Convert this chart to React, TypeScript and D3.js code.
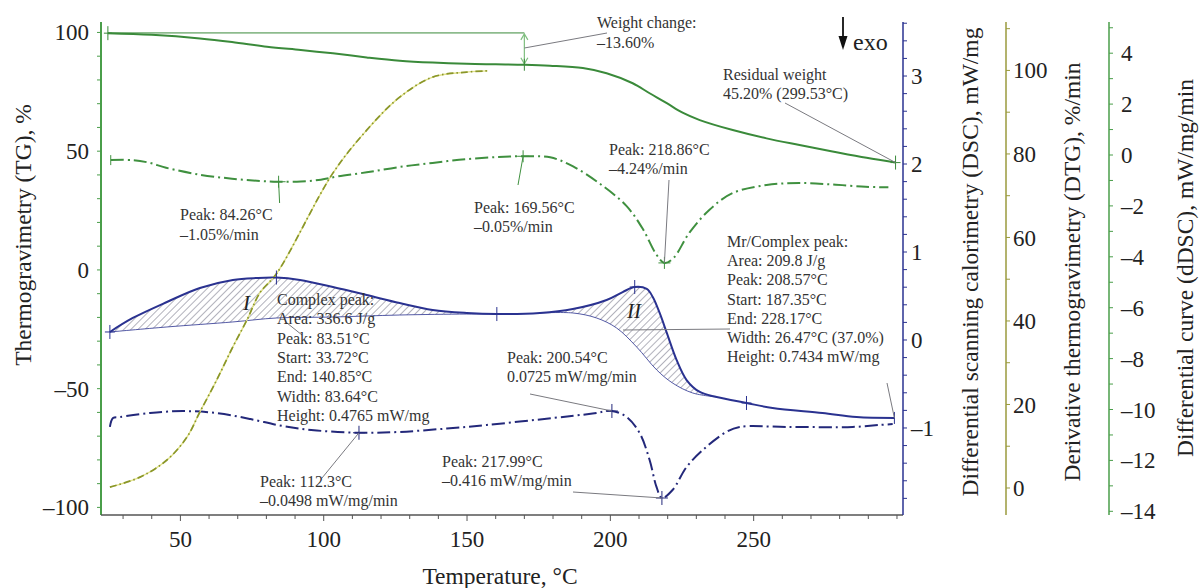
import React from "react";
import * as d3 from "d3";

type P = [number, number];

// ---- data (temperature °C, value) ----
const tgSeries: P[] = [
  [24.7, 99.7], [40, 99.0], [56.8, 97.5], [68, 96.0], [80.2, 94.0], [92, 92.6],
  [103.2, 91.2], [115, 89.5], [126.5, 88.1], [138, 87.3], [149.9, 86.8], [160, 86.6],
  [170, 86.4], [178.9, 86.0], [190.4, 85.0], [198.7, 82.8], [207.8, 78.6], [213.7, 74.4],
  [219.7, 70.2], [225.2, 66.2], [231.2, 63.1], [242.7, 58.9], [254.5, 55.4], [266, 52.6],
  [277.5, 49.9], [289.4, 47.2], [299.5, 45.2],
];

const dtgSeries: P[] = [
  [25.7, -0.2], [33.5, -0.2], [39, -0.3], [45, -0.5], [57, -0.78], [68, -0.93],
  [78, -1.02], [84.26, -1.05], [92, -1.04], [99, -0.97], [105, -0.84], [115, -0.68],
  [126.5, -0.47], [138, -0.31], [150, -0.16], [161, -0.08], [169.56, -0.05], [179, -0.09],
  [187, -0.45], [196, -1.1], [205.6, -2.0], [211.3, -2.9], [216, -3.9], [218.86, -4.24],
  [222, -4.05], [227.6, -3.05], [234.6, -2.15], [242.6, -1.5], [254.5, -1.18], [266, -1.1],
  [277.5, -1.16], [289, -1.25], [297, -1.27],
];

const oliveSeries: P[] = [
  [25.4, 0.2], [35.9, 2.6], [45.3, 6.7], [52.3, 12.2], [56.8, 18.2], [62.7, 25.9],
  [68.3, 33.8], [73.2, 40.2], [77.7, 46.7], [83.7, 51.5], [103.2, 75.4], [115, 85.7],
  [126.5, 93.6], [138, 98.4], [149.9, 99.6], [157.2, 99.9],
];

const dscSeries: P[] = [
  [25.4, 0.091], [33.4, 0.25], [45.3, 0.432], [56.8, 0.591], [68.3, 0.682], [76.7, 0.705],
  [83.5, 0.71], [91.7, 0.682], [103.2, 0.602], [115, 0.511], [126.5, 0.42], [138, 0.341],
  [149.9, 0.307], [160.4, 0.295], [175.4, 0.307], [186.9, 0.352], [198.7, 0.455],
  [204.3, 0.545], [208.5, 0.602], [212.7, 0.58], [214.8, 0.489], [217.2, 0.307],
  [219.7, 0.08], [223.1, -0.227], [226.6, -0.455], [231.2, -0.591], [237.1, -0.648],
  [247.5, -0.716], [256.6, -0.773], [274, -0.83], [285.9, -0.875], [299.1, -0.886],
];

const baselineI: P[] = [
  [25.4, 0.091], [45.3, 0.148], [68.3, 0.205], [83.5, 0.25], [103.2, 0.261],
  [126.5, 0.284], [149.9, 0.295], [160.4, 0.295],
];

const baselineII: P[] = [
  [175.4, 0.307], [186.9, 0.307], [195.2, 0.25], [202.2, 0.136], [209.2, -0.08],
  [216.2, -0.341], [221.7, -0.489], [228.7, -0.602], [237.1, -0.648],
];

const ddscSeries: P[] = [
  [25.4, -0.017], [26.5, 0.033], [28.9, 0.039], [39.4, 0.061], [50.9, 0.072], [62.7, 0.061],
  [74.2, 0.028], [85.7, -0.012], [97.6, -0.037], [112.3, -0.0498], [126.5, -0.045],
  [142.9, -0.026], [156.9, -0.006], [179.9, 0.033], [193.8, 0.058], [200.54, 0.0725],
  [205.7, 0.039], [210.2, -0.051], [213.7, -0.203], [216.1, -0.354], [217.99, -0.416],
  [221.7, -0.371], [226.6, -0.242], [232.2, -0.147], [240.5, -0.045], [245.1, -0.017],
  [261.5, -0.017], [284.5, -0.017], [294, -0.006], [298.5, -0.001],
];

// ---- ticks / labels ----
const xTicks = [50, 100, 150, 200, 250];
const tgTicks = [-100, -50, 0, 50, 100];
const dscTicks = [-1, 0, 1, 2, 3];
const oliveTicks = [0, 20, 40, 60, 80, 100];
const greenTicks = [-14, -12, -10, -8, -6, -4, -2, 0, 2, 4];

const complexI = [
  "Complex peak:", "Area: 336.6 J/g", "Peak: 83.51°C", "Start: 33.72°C",
  "End: 140.85°C", "Width: 83.64°C", "Height: 0.4765 mW/mg",
];
const complexII = [
  "Mr/Complex peak:", "Area: 209.8 J/g", "Peak: 208.57°C", "Start: 187.35°C",
  "End: 228.17°C", "Width: 26.47°C (37.0%)", "Height: 0.7434 mW/mg",
];

const fmt = (v: number) => (v < 0 ? "–" + Math.abs(v) : String(v));

const FONT = "'Liberation Serif', 'Times New Roman', serif";
const C_TG = "#3a8a3a";
const C_DTG = "#3f903f";
const C_GAX = "#4a9e4a";
const C_DSC = "#2a3290";
const C_DD = "#23287a";
const C_OL = "#8a962a";
const C_OLAX = "#9a9a3c";
const C_LEAD = "#7a7a80";

export default function App() {
  const x = d3.scaleLinear().domain([22.3, 302.1]).range([101, 903]);
  const yTG = d3.scaleLinear().domain([-103.2, 104.4]).range([515, 22]);
  const yDSC = d3.scaleLinear().domain([-1.989, 3.614]).range([515, 22]);
  const yOl = d3.scaleLinear().domain([-6.47, 111.6]).range([515, 22]);
  const yG = d3.scaleLinear().domain([-14.145, 5.226]).range([515, 22]);
  const yDD = d3.scaleLinear().domain([-0.5115, 2.2566]).range([515, 22]);

  const mk = (ys: d3.ScaleLinear<number, number>) =>
    d3.line<P>().x((d) => x(d[0])).y((d) => ys(d[1])).curve(d3.curveCatmullRom.alpha(0.5));

  const lDSC = mk(yDSC);
  const hatch = (base: P[]) => {
    const a = base[0][0];
    const b = base[base.length - 1][0];
    const seg = dscSeries.filter((d) => d[0] >= a && d[0] <= b);
    const rev = base.slice().reverse();
    return (lDSC(seg) || "") + (lDSC(rev) || "").replace(/^M/, "L") + "Z";
  };

  const cross = (cx: number, cy: number, color: string, h = 6, v = 7, key?: string) => (
    <g key={key} stroke={color} strokeWidth={1}>
      <line x1={cx - h} x2={cx + h} y1={cy} y2={cy} />
      <line x1={cx} x2={cx} y1={cy - v} y2={cy + v} />
    </g>
  );

  const at = (s: P[], t: number) => s.find((d) => d[0] === t) as P;

  const tgMinor = d3.range(-100, 101, 10);
  const xMinor = d3.range(30, 301, 10);
  const dscMinor = d3.range(-1.8, 3.61, 0.2);
  const olMinor = d3.range(0, 111, 10);
  const gMinor = d3.range(-14, 5.1, 1);

  const tickFont = { fontFamily: FONT, fontSize: 23, fill: "#222" } as const;
  const anno = { fontFamily: FONT, fontSize: 16, fill: "#333" } as const;
  const titleFont = { fontFamily: FONT, fontSize: 23.5, fill: "#222" } as const;

  const tgStart = tgSeries[0];
  const tg170 = at(tgSeries, 170);
  const tgEnd = tgSeries[tgSeries.length - 1];

  const dtg1 = at(dtgSeries, 84.26);
  const dtg2 = at(dtgSeries, 169.56);
  const dtg3 = at(dtgSeries, 218.86);
  const dd1 = at(ddscSeries, 112.3);
  const dd2 = at(ddscSeries, 200.54);
  const dd3 = at(ddscSeries, 217.99);
  const dscEnd = dscSeries[dscSeries.length - 1];

  const dash = "13,4,2,4";

  return (
    <svg
      width={1200}
      height={588}
      style={{ position: "absolute", left: 0, top: 0, background: "#fff" }}
    >
      <defs>
        <pattern id="hatch" patternUnits="userSpaceOnUse" width={5} height={5} patternTransform="rotate(45)">
          <line x1={0} y1={0} x2={0} y2={5} stroke="#55556a" strokeWidth={0.9} />
        </pattern>
      </defs>
      <rect x={0} y={0} width={1200} height={588} fill="#fff" />

      {/* hatched peak areas */}
      <path d={hatch(baselineI)} fill="url(#hatch)" stroke="none" />
      <path d={hatch(baselineII)} fill="url(#hatch)" stroke="none" />
      <path d={lDSC(baselineI) || ""} fill="none" stroke={C_DSC} strokeWidth={1} opacity={0.8} />
      <path d={lDSC(baselineII) || ""} fill="none" stroke={C_DSC} strokeWidth={1} opacity={0.8} />

      {/* weight change guide */}
      <line x1={x(tgStart[0])} x2={x(tg170[0])} y1={yTG(99.8)} y2={yTG(99.8)} stroke={C_TG} strokeWidth={1} />
      <g stroke="#7fbf7f" strokeWidth={1.2} fill="none">
        <line x1={x(170)} x2={x(170)} y1={yTG(99.8) + 1} y2={yTG(tg170[1]) - 1} />
        <path d={`M${x(170) - 3.5},${yTG(99.8) + 7} L${x(170)},${yTG(99.8) + 1} L${x(170) + 3.5},${yTG(99.8) + 7}`} />
        <path d={`M${x(170) - 3.5},${yTG(tg170[1]) - 7} L${x(170)},${yTG(tg170[1]) - 1} L${x(170) + 3.5},${yTG(tg170[1]) - 7}`} />
      </g>

      {/* curves */}
      <path d={lDSC(dscSeries) || ""} fill="none" stroke={C_DSC} strokeWidth={2} />
      <path d={mk(yDD)(ddscSeries) || ""} fill="none" stroke={C_DD} strokeWidth={2} strokeDasharray={dash} />
      <path d={mk(yOl)(oliveSeries) || ""} fill="none" stroke="#e2e28a" strokeWidth={1.4} />
      <path d={mk(yOl)(oliveSeries) || ""} fill="none" stroke={C_OL} strokeWidth={1.7} strokeDasharray="7,3,1.5,3" />
      <path d={mk(yG)(dtgSeries) || ""} fill="none" stroke={C_DTG} strokeWidth={2} strokeDasharray={dash} />
      <path d={mk(yTG)(tgSeries) || ""} fill="none" stroke={C_TG} strokeWidth={2} />

      {/* markers */}
      {cross(x(tgStart[0]), yTG(tgStart[1]), C_TG, 4, 7, "t1")}
      {cross(x(tg170[0]), yTG(tg170[1]), C_TG, 0, 6, "t2")}
      {cross(x(tgEnd[0]), yTG(tgEnd[1]), C_TG, 5, 7, "t3")}
      {cross(x(dtgSeries[0][0]), yG(dtgSeries[0][1]), C_DTG, 0, 5, "g0")}
      {cross(x(dtg1[0]), yG(dtg1[1]), C_DTG, 7, 6, "g1")}
      {cross(x(dtg2[0]), yG(dtg2[1]), C_DTG, 6, 6, "g2")}
      {cross(x(dtg3[0]), yG(dtg3[1]), C_DTG, 6, 6, "g3")}
      {[25.4, 83.5, 160.4, 208.5, 247.5].map((t, i) =>
        cross(x(t), yDSC(at(dscSeries, t)[1]), C_DSC, 5, 7, "d" + i)
      )}
      {cross(x(dscEnd[0]), yDSC(dscEnd[1]), C_DSC, 0, 6, "de")}
      {cross(x(dd1[0]), yDD(dd1[1]), C_DD, 6, 7, "dd1")}
      {cross(x(dd2[0]), yDD(dd2[1]), C_DD, 6, 7, "dd2")}
      {cross(x(dd3[0]), yDD(dd3[1]), C_DD, 6, 7, "dd3")}

      {/* leader lines */}
      <g stroke={C_LEAD} strokeWidth={1} fill="none">
        <line x1={x(170)} y1={48} x2={607} y2={33} />
        <line x1={785} y1={103} x2={x(tgEnd[0])} y2={yTG(tgEnd[1])} />
        <line x1={x(dtg1[0])} y1={yG(dtg1[1])} x2={x(dtg1[0]) + 1} y2={203} stroke={C_DTG} />
        <line x1={x(dtg2[0])} y1={yG(dtg2[1])} x2={518} y2={185} stroke={C_DTG} />
        <line x1={x(dtg3[0])} y1={yG(dtg3[1])} x2={669} y2={180} />
        <line x1={287} y1={323} x2={302} y2={335} />
        <line x1={623} y1={330} x2={730} y2={329} />
        <line x1={x(dscEnd[0])} y1={yDSC(dscEnd[1])} x2={887} y2={383} />
        <line x1={x(dd1[0])} y1={yDD(dd1[1])} x2={322} y2={478} />
        <line x1={x(dd2[0])} y1={yDD(dd2[1])} x2={530} y2={394} />
        <line x1={x(dd3[0])} y1={yDD(dd3[1])} x2={573} y2={492} />
      </g>

      {/* left axis */}
      <line x1={101} x2={101} y1={22} y2={515} stroke={C_GAX} strokeWidth={2} />
      {tgMinor.map((v) => (
        <line key={"tm" + v} x1={97} x2={101} y1={yTG(v)} y2={yTG(v)} stroke={C_GAX} strokeWidth={1} />
      ))}
      {tgTicks.map((v) => (
        <text key={"tl" + v} x={89} y={yTG(v)} dy="0.35em" textAnchor="end" {...tickFont}>
          {fmt(v)}
        </text>
      ))}

      {/* bottom axis */}
      <line x1={101} x2={903} y1={515} y2={515} stroke="#555" strokeWidth={1.5} />
      {xMinor.map((v) => (
        <line key={"xm" + v} x1={x(v)} x2={x(v)} y1={515} y2={xTicks.includes(v) ? 521 : 519} stroke="#555" strokeWidth={1} />
      ))}
      {xTicks.map((v) => (
        <text key={"xl" + v} x={x(v)} y={547} textAnchor="middle" {...tickFont}>
          {v}
        </text>
      ))}

      {/* DSC axis */}
      <line x1={903} x2={903} y1={22} y2={515} stroke={C_DSC} strokeWidth={1.5} />
      {dscMinor.map((v, i) => (
        <line key={"dm" + i} x1={903} x2={907} y1={yDSC(v)} y2={yDSC(v)} stroke={C_DSC} strokeWidth={1} />
      ))}
      {dscTicks.map((v) => (
        <text key={"dl" + v} x={911} y={yDSC(v)} dy="0.35em" {...tickFont}>
          {fmt(v)}
        </text>
      ))}

      {/* olive axis */}
      <line x1={1006} x2={1006} y1={22} y2={515} stroke={C_OLAX} strokeWidth={1.5} />
      {olMinor.map((v) => (
        <line key={"om" + v} x1={1006} x2={1010} y1={yOl(v)} y2={yOl(v)} stroke={C_OLAX} strokeWidth={1} />
      ))}
      {oliveTicks.map((v) => (
        <text key={"ol" + v} x={1013} y={yOl(v)} dy="0.35em" {...tickFont}>
          {fmt(v)}
        </text>
      ))}

      {/* green right axis */}
      <line x1={1109} x2={1109} y1={22} y2={515} stroke={C_GAX} strokeWidth={1.5} />
      {gMinor.map((v) => (
        <line key={"gm" + v} x1={1109} x2={1113} y1={yG(v)} y2={yG(v)} stroke={C_GAX} strokeWidth={1} />
      ))}
      {greenTicks.map((v) => (
        <text key={"gl" + v} x={1121} y={yG(v)} dy="0.35em" {...tickFont}>
          {fmt(v)}
        </text>
      ))}

      {/* axis titles */}
      <text transform="translate(31,235) rotate(-90)" textAnchor="middle" {...titleFont}>
        Thermogravimetry (TG), %
      </text>
      <text x={500} y={584} textAnchor="middle" {...titleFont}>
        Temperature, °C
      </text>
      <text transform="translate(978,262) rotate(-90)" textAnchor="middle" {...titleFont}>
        Differential scanning calorimetry (DSC), mW/mg
      </text>
      <text transform="translate(1080,272) rotate(-90)" textAnchor="middle" {...titleFont}>
        Derivative thermogravimetry (DTG), %/min
      </text>
      <text transform="translate(1193,268) rotate(-90)" textAnchor="middle" {...titleFont}>
        Differential curve (dDSC), mW/mg/min
      </text>

      {/* exo arrow */}
      <line x1={843} x2={843} y1={17} y2={44} stroke="#111" strokeWidth={1.8} />
      <path d="M838.5,36 L843,50 L847.5,36 Z" fill="#111" />
      <text x={853} y={50} fontFamily={FONT} fontSize={24} fill="#222">exo</text>

      {/* annotations */}
      <text {...anno}>
        <tspan x={597} y={28}>Weight change:</tspan>
        <tspan x={597} y={48}>–13.60%</tspan>
      </text>
      <text {...anno}>
        <tspan x={723} y={80}>Residual weight</tspan>
        <tspan x={723} y={99}>45.20% (299.53°C)</tspan>
      </text>
      <text {...anno}>
        <tspan x={180} y={220}>Peak: 84.26°C</tspan>
        <tspan x={180} y={240}>–1.05%/min</tspan>
      </text>
      <text {...anno}>
        <tspan x={474} y={213}>Peak: 169.56°C</tspan>
        <tspan x={474} y={232}>–0.05%/min</tspan>
      </text>
      <text {...anno}>
        <tspan x={609} y={155}>Peak: 218.86°C</tspan>
        <tspan x={609} y={174}>–4.24%/min</tspan>
      </text>
      <text {...anno}>
        {complexI.map((s, i) => (
          <tspan key={i} x={277} y={305 + i * 19.3}>{s}</tspan>
        ))}
      </text>
      <text {...anno}>
        {complexII.map((s, i) => (
          <tspan key={i} x={727} y={247 + i * 19.2}>{s}</tspan>
        ))}
      </text>
      <text {...anno}>
        <tspan x={260} y={487}>Peak: 112.3°C</tspan>
        <tspan x={260} y={506}>–0.0498 mW/mg/min</tspan>
      </text>
      <text {...anno}>
        <tspan x={507} y={363}>Peak: 200.54°C</tspan>
        <tspan x={507} y={382}>0.0725 mW/mg/min</tspan>
      </text>
      <text {...anno}>
        <tspan x={442} y={467}>Peak: 217.99°C</tspan>
        <tspan x={442} y={486}>–0.416 mW/mg/min</tspan>
      </text>
      <text x={243} y={310} fontFamily={FONT} fontSize={21} fontStyle="italic" fill="#222">I</text>
      <text x={627} y={318} fontFamily={FONT} fontSize={21} fontStyle="italic" fill="#222">II</text>
    </svg>
  );
}
